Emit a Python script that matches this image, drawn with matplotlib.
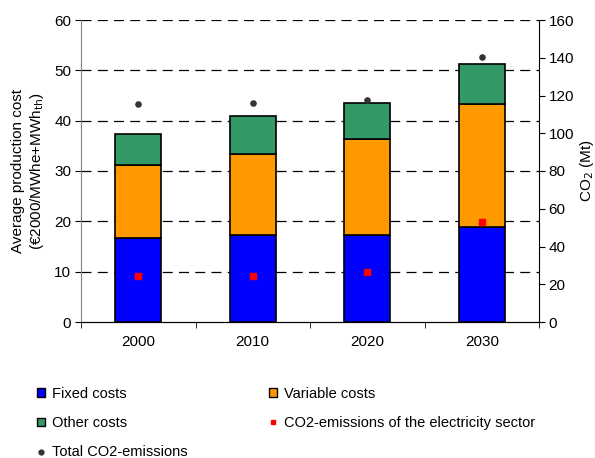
import matplotlib
matplotlib.use("Agg")
import matplotlib.pyplot as plt
import numpy as np
from matplotlib.lines import Line2D
from matplotlib.patches import Patch

plt.rcParams['font.family'] = ['Liberation Sans', 'DejaVu Sans']

years = ["2000", "2010", "2020", "2030"]
fixed = [16.7, 17.3, 17.3, 18.8]
variable = [14.5, 16.0, 19.0, 24.5]
other = [6.1, 7.6, 7.3, 7.9]
co2_elec = [24.2, 24.2, 26.5, 53.1]
co2_total = [115.4, 116.2, 117.6, 140.2]

FS = 11
LFS = 10.5
fig = plt.figure(figsize=(5.95, 4.58), dpi=100)
ax = fig.add_axes([81/595, 1-322/458, 458/595, 302/458])
x = np.arange(len(years))
w = 0.4
ec = 'black'
ax.bar(x, fixed, w, color='#0000FF', edgecolor=ec, linewidth=1.2, zorder=3)
ax.bar(x, variable, w, bottom=fixed, color='#FF9900', edgecolor=ec, linewidth=1.2, zorder=3)
bot2 = np.array(fixed) + np.array(variable)
ax.bar(x, other, w, bottom=bot2, color='#339966', edgecolor=ec, linewidth=1.2, zorder=3)

ax.set_xlim(-0.5, 3.5)
ax.set_ylim(0, 60)
ax.set_yticks(range(0, 61, 10))
ax.set_xticks(x)
ax.set_xticklabels(years)
ax.set_xticks(np.arange(-0.5, 4, 1), minor=True)
ax.tick_params(axis='x', which='major', length=0, pad=9, labelsize=FS)
ax.tick_params(axis='x', which='minor', length=4, direction='out')
ax.tick_params(axis='y', labelsize=FS, length=4, pad=3)
for yv in range(10, 61, 10):
    ax.axhline(yv, color='black', lw=0.9, ls=(0, (8, 5)), zorder=1)
ax.spines['top'].set_visible(False)
ax.spines['right'].set_visible(False)
ax.spines['left'].set_color('#808080')
ax.set_ylabel("Average production cost\n(€2000/MWhe+MWh$_{\\mathrm{th}}$)", fontsize=FS, labelpad=6)

ax2 = ax.twinx()
ax2.set_ylim(0, 160)
ax2.set_yticks(range(0, 161, 20))
ax2.tick_params(axis='y', labelsize=FS, length=4, pad=3)
ax2.spines['top'].set_visible(False)
ax2.spines['left'].set_visible(False)
ax2.scatter(x, co2_elec, marker='s', s=18, color='#FF0000', zorder=5)
ax2.scatter(x, co2_total, marker='o', s=14, color='#333333', zorder=5)
ax2.set_ylabel("CO$_2$ (Mt)", fontsize=FS, labelpad=3)

handles = [
    Patch(facecolor='#0000FF', edgecolor='black', label='Fixed costs'),
    Patch(facecolor='#339966', edgecolor='black', label='Other costs'),
    Line2D([], [], marker='o', ls='none', color='#333333', markersize=3.5, label='Total CO2-emissions'),
    Patch(facecolor='#FF9900', edgecolor='black', label='Variable costs'),
    Line2D([], [], marker='s', ls='none', color='#FF0000', markersize=3.5, label='CO2-emissions of the electricity sector'),
]
fig.legend(handles=handles, ncol=2, loc='upper left', bbox_to_anchor=(31/595, 1-381/458),
           borderaxespad=0, frameon=False, fontsize=LFS, handlelength=0.57, handleheight=0.57,
           handletextpad=0.45, columnspacing=5.6, labelspacing=1.05)

fig.savefig("out.png", dpi=100)
